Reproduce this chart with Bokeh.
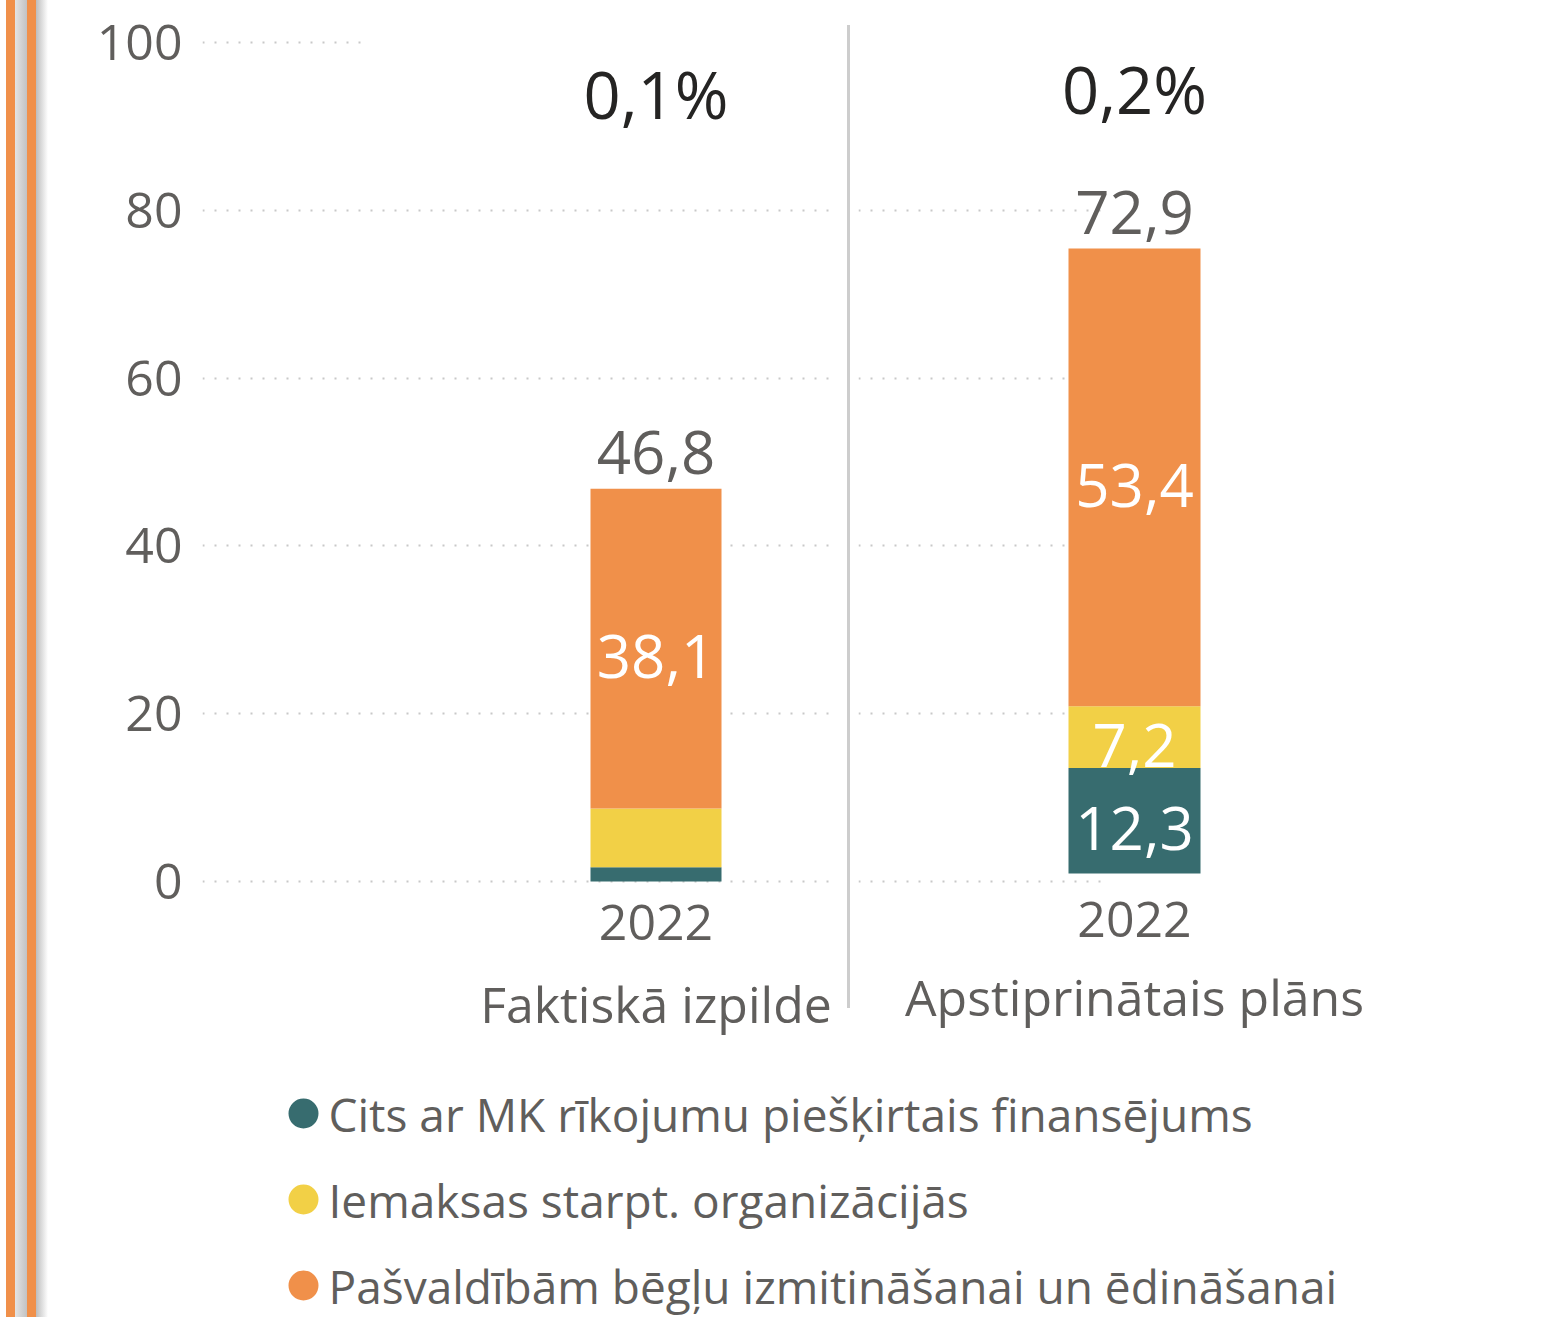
from bokeh.plotting import figure
from bokeh.models import Range1d, FixedTicker, LinearAxis, Grid, ColumnDataSource, Spacer
from bokeh.layouts import row, column
from bokeh.core.properties import value
from bokeh.embed import file_html
from bokeh.resources import INLINE

# ---------------- data ----------------
years = [2022]
panels = ["Faktiskā izpilde", "Apstiprinātais plāns"]
series = [
    "Cits ar MK rīkojumu piešķirtais finansējums",
    "Iemaksas starpt. organizācijās",
    "Pašvaldībām bēgļu izmitināšanai un ēdināšanai",
]
colors = ["#376C6F", "#F2D046", "#F0904A"]
fakt_values = [1.7, 7.0, 38.1]
plan_values = [12.3, 7.2, 53.4]
share_values = [0.1, 0.2]
y_ticks = [0, 20, 40, 60, 80, 100]
fakt_show_inner = [False, False, True]
plan_show_inner = [True, True, True]

FONT = "Open Sans"
GREY = "#605E5C"
DARK = "#252423"
BAR_W = 0.6


def fmt(v):
    return f"{v:.1f}".replace(".", ",")


# ---------------- layout constants (page px) ----------------
FIG_H = 1060
FRAME_TOP = 8
FRAME_BOT = 883


def yrange(zero_px, px_per_unit):
    return Range1d(-(FRAME_BOT - zero_px) / px_per_unit, (zero_px - FRAME_TOP) / px_per_unit)


def make_panel(fig_left, width, frame_left, frame_right, bar_center, bar_px,
               grid_specs, values, show_inner, share, share_y, panel_name,
               tick_standoff, cat_standoff, bar_zero_px, bar_scale, with_yaxis):
    U = bar_px / BAR_W

    def xat(px):
        return years[0] + (px - bar_center) / U

    p = figure(width=width, height=FIG_H, output_backend="svg", toolbar_location=None,
               x_range=Range1d(xat(frame_left), xat(frame_right)),
               y_range=yrange(881, 8.39),
               min_border_left=frame_left - fig_left,
               min_border_right=fig_left + width - frame_right,
               min_border_top=FRAME_TOP - 8, min_border_bottom=FIG_H - (FRAME_BOT - 8),
               x_axis_location=None, y_axis_location=None,
               outline_line_color=None, background_fill_color="white",
               border_fill_color="white")
    p.grid.visible = False
    p.extra_y_ranges = {"bars": yrange(bar_zero_px, bar_scale)}

    for ticks, right_px in grid_specs:
        g = Grid(dimension=1, ticker=FixedTicker(ticks=ticks),
                 cross_bounds=(xat(frame_left), xat(right_px)),
                 grid_line_color="#C8C8C8", grid_line_width=2, grid_line_dash="2 10")
        p.add_layout(g, "center")

    if with_yaxis:
        ya = LinearAxis(ticker=FixedTicker(ticks=y_ticks))
        ya.axis_line_color = None
        ya.major_tick_line_color = None
        ya.minor_tick_line_color = None
        ya.major_tick_out = 0
        ya.major_label_standoff = 20
        ya.major_label_text_font = FONT
        ya.major_label_text_font_size = "50px"
        ya.major_label_text_color = GREY
        p.add_layout(ya, "left")

    xa = LinearAxis(ticker=FixedTicker(ticks=years))
    xa.axis_line_color = None
    xa.major_tick_line_color = None
    xa.minor_tick_line_color = None
    xa.major_tick_out = 0
    xa.major_label_standoff = tick_standoff
    xa.major_label_text_font = FONT
    xa.major_label_text_font_size = "50px"
    xa.major_label_text_color = GREY
    p.add_layout(xa, "below")

    xc = LinearAxis(ticker=FixedTicker(ticks=years),
                    major_label_overrides={years[0]: panel_name})
    xc.axis_line_color = None
    xc.major_tick_line_color = None
    xc.minor_tick_line_color = None
    xc.major_tick_out = 0
    xc.major_label_standoff = cat_standoff
    xc.major_label_text_font = FONT
    xc.major_label_text_font_size = "50px"
    xc.major_label_text_color = GREY
    p.add_layout(xc, "below")

    keys = [f"s{i}" for i in range(len(values))]
    data = {"x": years}
    for k, v in zip(keys, values):
        data[k] = [v]
    p.vbar_stack(keys, x="x", width=BAR_W, fill_color=colors, line_color=None,
                 source=ColumnDataSource(data), y_range_name="bars")

    # inner labels
    xs, ys, ts = [], [], []
    bottom = 0.0
    for v, s in zip(values, show_inner):
        if s:
            xs.append(years[0]); ys.append(bottom + v / 2); ts.append(fmt(v))
        bottom += v
    p.text(x=xs, y=ys, text=ts, text_align="center", text_baseline="middle",
           y_offset=8,
           text_font=value(FONT), text_font_size="60px", text_color="white",
           y_range_name="bars")

    total = round(sum(values), 1)
    p.text(x=years, y=[total], text=[fmt(total)], text_align="center",
           text_baseline="bottom", y_offset=-15,
           text_font=value(FONT), text_font_size="60px", text_color=GREY,
           y_range_name="bars")

    p.text(x=years, y=[share_y], text=[fmt(share) + "%"],
           text_align="center", text_baseline="middle",
           text_font=value(FONT), text_font_size="65px", text_color=DARK)
    return p


left = make_panel(fig_left=48, width=799, frame_left=202, frame_right=838,
                  bar_center=655.5, bar_px=131,
                  grid_specs=[([0, 20, 40, 60, 80], 837), ([100], 360)],
                  values=fakt_values, show_inner=fakt_show_inner,
                  share=share_values[0], share_y=(881 - 93) / 8.39,
                  panel_name=panels[0], tick_standoff=21, cat_standoff=27,
                  bar_zero_px=881, bar_scale=8.39, with_yaxis=True)

right = make_panel(fig_left=850, width=694, frame_left=858, frame_right=1300,
                   bar_center=1134, bar_px=132,
                   grid_specs=[([0, 20, 40, 60, 80], 1100)],
                   values=plan_values, show_inner=plan_show_inner,
                   share=share_values[1], share_y=(881 - 88) / 8.39,
                   panel_name=panels[1], tick_standoff=18, cat_standoff=23,
                   bar_zero_px=873, bar_scale=8.573, with_yaxis=False)

divider = column(Spacer(width=3, height=17),
                 Spacer(width=3, height=983, styles={"background-color": "#CDCDCD"}))

# ---------------- legend ----------------
LEG_TOP = 8 + FIG_H
LEG_H = 1317 - LEG_TOP
row_px = 86
first_row = 1113 - LEG_TOP
leg = figure(width=1496, height=LEG_H, output_backend="svg", toolbar_location=None,
             x_range=Range1d(-255, 1241),
             y_range=Range1d((LEG_H - first_row) / row_px, -first_row / row_px),
             min_border=0, x_axis_location=None, y_axis_location=None,
             outline_line_color=None)
leg.grid.visible = False
idx = list(range(len(series)))
leg.scatter(x=[0] * len(series), y=idx, size=30, fill_color=colors, line_color=None)
leg.text(x=[0] * len(series), y=idx, text=series, x_offset=25,
         text_align="left", text_baseline="middle",
         text_font=value(FONT), text_font_size="46px", text_color=GREY)

stripes = Spacer(width=42, height=1317, styles={
    "background": "linear-gradient(to right, #F0904A 0px, #F0904A 9px, #E4E4E4 9px, "
                  "#C2C2C2 21px, #F0904A 21px, #F0904A 30px, #BDBDBD 30px, #FFFFFF 42px)"})

layout = row(Spacer(width=6, height=1317), stripes,
             column(Spacer(width=1496, height=8), row(left, divider, right), leg))

open("out.html", "w").write(file_html(layout, INLINE))
